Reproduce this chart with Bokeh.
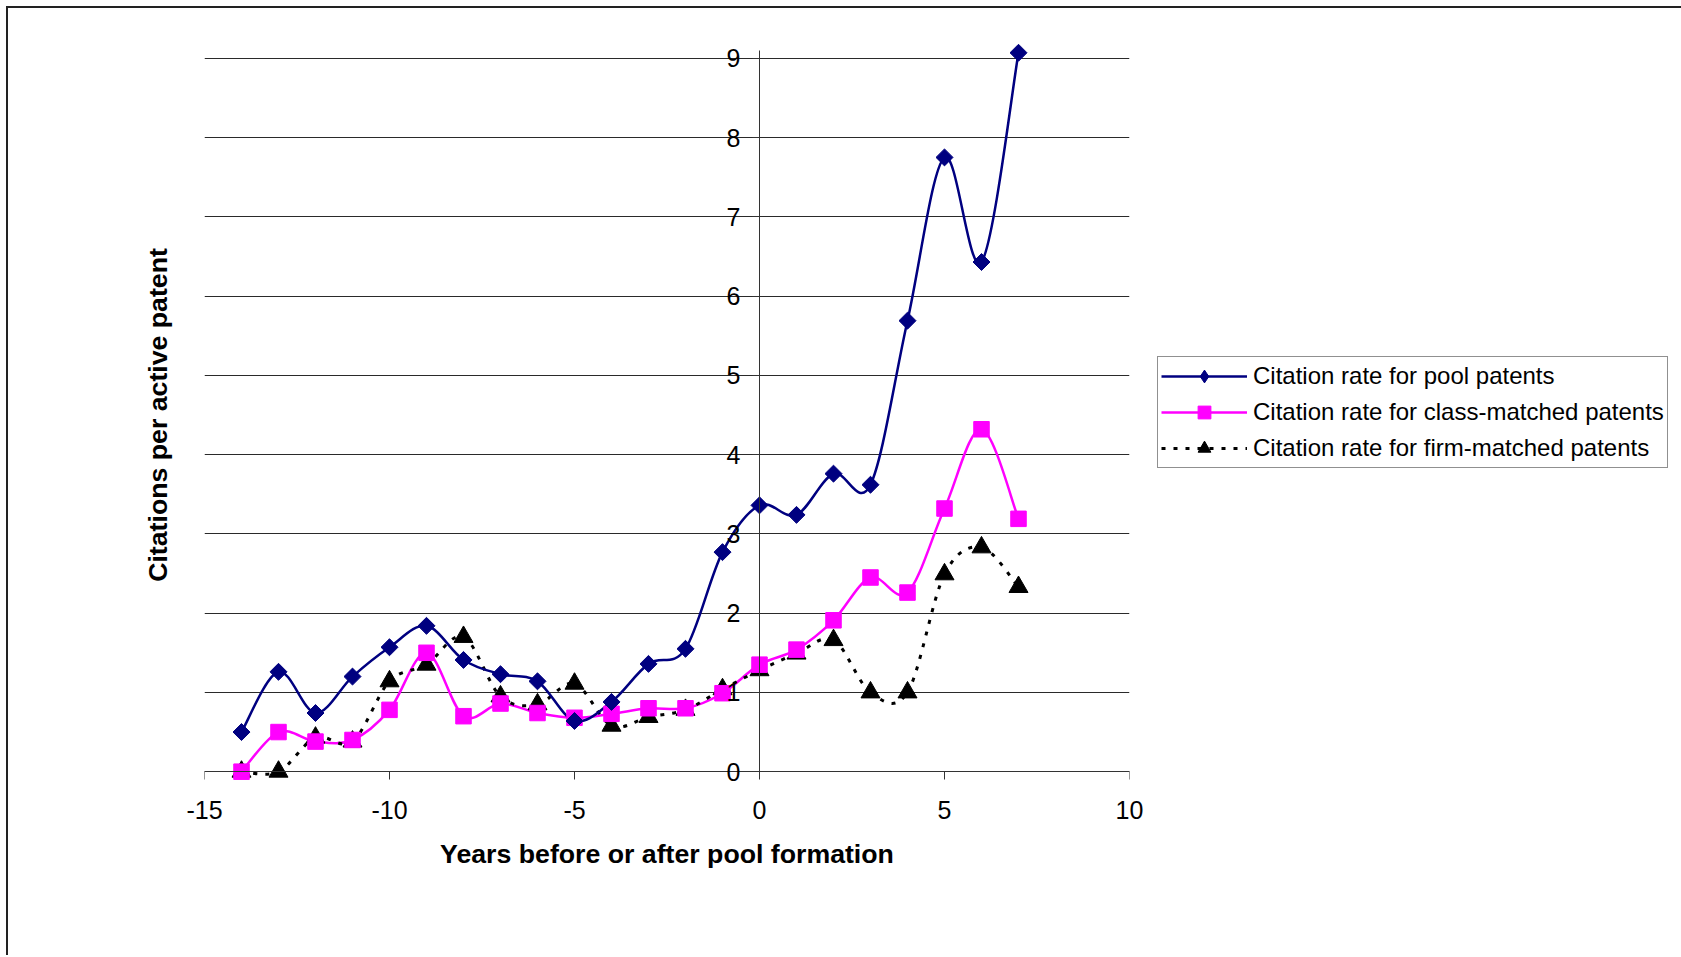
import numpy as np
from bokeh.plotting import figure
from bokeh.models import (LinearAxis, FixedTicker, Range1d, Legend, LegendItem, InlineStyleSheet,
                          PrintfTickFormatter)
from bokeh.embed import file_html
from bokeh.resources import INLINE

# ---- data ----
years = [-14, -13, -12, -11, -10, -9, -8, -7, -6, -5, -4, -3, -2, -1, 0, 1, 2, 3, 4, 5, 6, 7]
pool = [0.50, 1.26, 0.74, 1.20, 1.57, 1.84, 1.41, 1.23, 1.14, 0.64, 0.88, 1.36, 1.55, 2.77,
        3.36, 3.24, 3.76, 3.62, 5.69, 7.75, 6.43, 9.07]
class_matched = [0.00, 0.50, 0.38, 0.40, 0.78, 1.50, 0.70, 0.86, 0.74, 0.68, 0.73, 0.80, 0.80, 0.99,
                 1.35, 1.54, 1.91, 2.45, 2.26, 3.32, 4.32, 3.19]
firm_matched = [0.00, 0.00, 0.43, 0.38, 1.14, 1.35, 1.70, 0.95, 0.85, 1.11, 0.58, 0.69, 0.78, 1.04,
                1.28, 1.49, 1.66, 1.00, 1.00, 2.49, 2.83, 2.33]
x_ticks = [-15, -10, -5, 0, 5, 10]
y_ticks = [0, 1, 2, 3, 4, 5, 6, 7, 8, 9]
labels = ["Citation rate for pool patents",
          "Citation rate for class-matched patents",
          "Citation rate for firm-matched patents"]

FONT = "Liberation Sans"


def smooth_segments(xs, ys):
    """Catmull-Rom style Bezier control points (like a spreadsheet's smoothed line)."""
    x = np.asarray(xs, float)
    y = np.asarray(ys, float)
    n = len(x)
    xp = np.concatenate([[x[0]], x, [x[-1]]])
    yp = np.concatenate([[y[0]], y, [y[-1]]])
    return dict(
        x0=x[:-1], y0=y[:-1], x1=x[1:], y1=y[1:],
        cx0=x[:-1] + (xp[2:n + 1] - xp[0:n - 1]) / 6.0,
        cy0=y[:-1] + (yp[2:n + 1] - yp[0:n - 1]) / 6.0,
        cx1=x[1:] - (xp[3:n + 2] - xp[1:n]) / 6.0,
        cy1=y[1:] - (yp[3:n + 2] - yp[1:n]) / 6.0,
    )


p = figure(frame_width=925, frame_height=753,
           x_range=Range1d(-15, 10), y_range=Range1d(-0.25, 9.25),
           min_border_left=196, min_border_right=544, min_border_top=30, min_border_bottom=164,
           output_backend="svg", toolbar_location=None)
p.outline_line_color = None
p.background_fill_color = "white"
p.border_fill_color = "white"
p.stylesheets = [InlineStyleSheet(css=":host { border-left: 2px solid #222222; border-top: 2px solid #222222; margin-left: 6px; margin-top: 6px; }")]

# grid
p.xgrid.visible = False
p.ygrid.ticker = FixedTicker(ticks=y_ticks)
p.ygrid.grid_line_color = "#2a2a2a"
p.ygrid.grid_line_width = 1

# bottom axis: tick labels and title only (at frame bottom)
xa = p.xaxis[0]
xa.ticker = FixedTicker(ticks=x_ticks)
xa.formatter = PrintfTickFormatter(format="%d")
xa.axis_line_color = None
xa.major_tick_out = 0
xa.major_tick_in = 0
xa.minor_tick_out = 0
xa.minor_tick_in = 0
xa.major_label_text_font = FONT
xa.major_label_text_font_size = "25px"
xa.major_label_text_color = "black"
xa.major_label_standoff = 9
xa.axis_label = "Years before or after pool formation"
xa.axis_label_text_font = FONT
xa.axis_label_text_font_style = "bold"
xa.axis_label_text_font_size = "26.7px"
xa.axis_label_text_color = "black"
xa.axis_label_standoff = 17

# x axis line and ticks crossing at y = 0
xa2 = LinearAxis(fixed_location=0, ticker=FixedTicker(ticks=x_ticks))
xa2.axis_line_color = "#333333"
xa2.major_tick_line_color = "#333333"
xa2.major_tick_out = 8
xa2.major_tick_in = 0
xa2.minor_tick_out = 0
xa2.minor_tick_in = 0
xa2.major_label_text_color = None
xa2.major_label_text_font_size = "1px"
p.add_layout(xa2, "below")

# left axis only carries the title
ya = p.yaxis[0]
ya.ticker = FixedTicker(ticks=[])
ya.bounds = (0, 9)
ya.axis_line_color = None
ya.major_tick_out = 0
ya.major_tick_in = 0
ya.minor_tick_out = 0
ya.minor_tick_in = 0
ya.axis_label = "Citations per active patent"
ya.axis_label_text_font = FONT
ya.axis_label_text_font_style = "bold"
ya.axis_label_text_font_size = "26.7px"
ya.axis_label_text_color = "black"
ya.axis_label_standoff = 32

# y axis crossing at x = 0
ya2 = LinearAxis(fixed_location=0, ticker=FixedTicker(ticks=y_ticks), bounds=(0, 9.1))
ya2.formatter = PrintfTickFormatter(format="%d")
ya2.axis_line_color = "#333333"
ya2.major_tick_line_color = "#333333"
ya2.major_tick_out = 7
ya2.major_tick_in = 0
ya2.minor_tick_out = 0
ya2.minor_tick_in = 0
ya2.major_label_text_font = FONT
ya2.major_label_text_font_size = "25px"
ya2.major_label_text_color = "black"
ya2.major_label_standoff = 12
p.add_layout(ya2, "left")

NAVY = "#000080"
MAGENTA = "#FF00FF"
BLACK = "#000000"

# smoothed lines
p.bezier(line_color=MAGENTA, line_width=2.5, line_cap="round", **smooth_segments(years, class_matched))
p.bezier(line_color=BLACK, line_width=3, line_dash="4 8", **smooth_segments(years, firm_matched))
p.bezier(line_color=NAVY, line_width=2.5, line_cap="round", **smooth_segments(years, pool))

# markers
p.scatter(years, firm_matched, marker="triangle", size=19, fill_color=BLACK, line_color=BLACK)
p.scatter(years, class_matched, marker="square", size=15.5, fill_color=MAGENTA, line_color=MAGENTA)
p.scatter(years, pool, marker="square", size=12, angle=np.pi / 4, fill_color=NAVY, line_color=NAVY)

# legend proxies (a single NaN point: nothing drawn in the plot, only in the legend)
nan = [np.nan]
l1 = p.line(nan, nan, line_color=NAVY, line_width=2.5)
m1 = p.scatter(nan, nan, marker="diamond", fill_color=NAVY, line_color=NAVY)
l2 = p.line(nan, nan, line_color=MAGENTA, line_width=2.5)
m2 = p.scatter(nan, nan, marker="square", fill_color=MAGENTA, line_color=MAGENTA)
l3 = p.line(nan, nan, line_color=BLACK, line_width=3, line_dash="4 8")
m3 = p.scatter(nan, nan, marker="triangle", fill_color=BLACK, line_color=BLACK)

legend = Legend(items=[LegendItem(label=labels[0], renderers=[l1, m1]),
                       LegendItem(label=labels[1], renderers=[l2, m2]),
                       LegendItem(label=labels[2], renderers=[l3, m3])],
                location=(28, 323))
legend.glyph_width = 86
legend.glyph_height = 32
legend.spacing = 4
legend.padding = 3
legend.margin = 0
legend.label_standoff = 6
legend.label_text_font = FONT
legend.label_text_font_size = "24px"
legend.label_text_color = "black"
legend.border_line_color = "#222222"
legend.border_line_width = 1
legend.background_fill_color = "white"
legend.background_fill_alpha = 1.0
p.add_layout(legend, "right")

open("out.html", "w").write(file_html(p, INLINE))
